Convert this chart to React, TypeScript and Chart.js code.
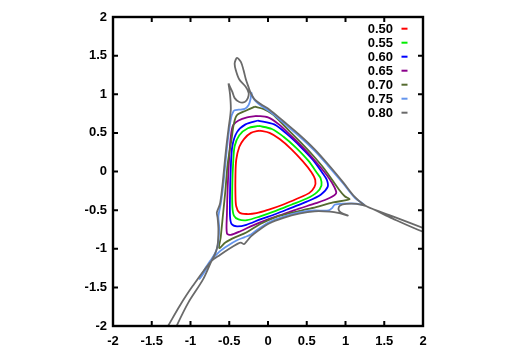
import React, { useEffect, useRef } from "react";
import { Chart, registerables } from "chart.js";
Chart.register(...registerables);

const levels = ["0.50", "0.55", "0.60", "0.65", "0.70", "0.75", "0.80"];
const colors = ["#ff0000", "#00ee00", "#0000ff", "#8b008b", "#556b2f", "#6495ed", "#6a6a6a"];
const tickValues = [-2, -1.5, -1, -0.5, 0, 0.5, 1, 1.5, 2];
const tickLabels = ["-2", "-1.5", "-1", "-0.5", "0", "0.5", "1", "1.5", "2"];

type P = [number, number];

const contour050: P[] = [
  [-0.11, 0.53], [-0.22, 0.5], [-0.31, 0.42], [-0.37, 0.32], [-0.41, 0.15], [-0.42, -0.05],
  [-0.42, -0.3], [-0.41, -0.45], [-0.37, -0.53], [-0.28, -0.55], [-0.15, -0.54], [0.02, -0.49],
  [0.19, -0.43], [0.38, -0.35], [0.53, -0.28], [0.6, -0.2], [0.61, -0.11], [0.56, -0.01],
  [0.45, 0.13], [0.3, 0.29], [0.15, 0.42], [0.02, 0.5], [-0.11, 0.53],
];
const contour055: P[] = [
  [-0.12, 0.59], [-0.26, 0.56], [-0.37, 0.47], [-0.43, 0.33], [-0.45, 0.1], [-0.46, -0.15],
  [-0.46, -0.45], [-0.44, -0.57], [-0.38, -0.62], [-0.27, -0.63], [-0.1, -0.58], [0.1, -0.51],
  [0.3, -0.43], [0.5, -0.35], [0.63, -0.27], [0.69, -0.18], [0.68, -0.09], [0.64, -0.03],
  [0.52, 0.14], [0.36, 0.31], [0.2, 0.45], [0.05, 0.55], [-0.12, 0.59],
];
const contour060: P[] = [
  [-0.13, 0.66], [-0.29, 0.61], [-0.4, 0.51], [-0.46, 0.33], [-0.48, 0.05], [-0.49, -0.3],
  [-0.49, -0.58], [-0.47, -0.68], [-0.4, -0.71], [-0.28, -0.69], [-0.1, -0.62], [0.1, -0.55],
  [0.3, -0.47], [0.5, -0.39], [0.68, -0.3], [0.77, -0.2], [0.76, -0.11], [0.71, -0.03],
  [0.58, 0.15], [0.42, 0.32], [0.25, 0.48], [0.08, 0.61], [-0.13, 0.66],
];
const contour065: P[] = [
  [-0.15, 0.72], [-0.27, 0.7], [-0.38, 0.66], [-0.45, 0.6], [-0.48, 0.45], [-0.5, 0.2],
  [-0.52, -0.2], [-0.53, -0.55], [-0.53, -0.8], [-0.48, -0.82], [-0.35, -0.77], [-0.2, -0.7],
  [0.0, -0.62], [0.2, -0.55], [0.4, -0.48], [0.62, -0.41], [0.8, -0.34], [0.88, -0.28],
  [0.86, -0.21], [0.79, -0.09], [0.64, 0.1], [0.48, 0.28], [0.31, 0.45], [0.14, 0.61],
  [0.0, 0.7], [-0.15, 0.72],
];
const contour070: P[] = [
  [-0.17, 0.84], [-0.28, 0.79], [-0.4, 0.73], [-0.44, 0.62], [-0.47, 0.42], [-0.52, 0.1],
  [-0.55, -0.25], [-0.58, -0.55], [-0.61, -0.85], [-0.63, -0.99], [-0.55, -0.92], [-0.42, -0.85],
  [-0.28, -0.79], [-0.1, -0.68], [0.1, -0.59], [0.28, -0.54], [0.45, -0.5], [0.62, -0.46],
  [0.84, -0.4], [1.05, -0.36], [0.99, -0.32], [0.92, -0.24], [0.73, 0.03], [0.57, 0.22],
  [0.4, 0.4], [0.22, 0.58], [0.06, 0.74], [-0.06, 0.81], [-0.17, 0.84],
];
const contour075: P[] = [
  [-0.44, 0.79], [-0.38, 0.8], [-0.3, 0.81], [-0.25, 0.86], [-0.225, 0.94], [-0.215, 1.02],
  [-0.2, 0.97], [-0.16, 0.91], [-0.09, 0.85], [0.02, 0.78], [0.2, 0.63], [0.4, 0.46],
  [0.6, 0.27], [0.77, 0.08], [0.97, -0.155], [1.12, -0.34], [1.24, -0.43], [1.14, -0.415],
  [0.97, -0.415], [0.86, -0.43], [0.83, -0.47], [0.78, -0.505], [0.6, -0.505], [0.4, -0.53],
  [0.2, -0.585], [0.02, -0.655], [-0.12, -0.74], [-0.22, -0.815], [-0.3, -0.85], [-0.4, -0.89],
  [-0.52, -0.96], [-0.63, -1.04], [-0.73, -1.15], [-0.8, -1.27], [-0.88, -1.39], [-0.82, -1.27],
  [-0.74, -1.15], [-0.67, -1.03], [-0.64, -0.9], [-0.63, -0.72], [-0.64, -0.58], [-0.61, -0.42],
  [-0.58, -0.2], [-0.56, 0.0], [-0.53, 0.3], [-0.5, 0.55], [-0.47, 0.72], [-0.44, 0.79],
];
const contour080: P[] = [
  [-0.51, 1.14], [-0.46, 1.03], [-0.43, 0.95], [-0.37, 0.9], [-0.3, 0.9], [-0.26, 0.95],
  [-0.25, 1.02], [-0.29, 1.1], [-0.37, 1.19], [-0.415, 1.31], [-0.43, 1.4], [-0.4, 1.47],
  [-0.35, 1.42], [-0.315, 1.31], [-0.285, 1.19], [-0.25, 1.09], [-0.22, 1.01], [-0.17, 0.93],
  [-0.09, 0.87], [0.02, 0.8], [0.2, 0.65], [0.4, 0.48], [0.6, 0.29], [0.77, 0.1], [0.97, -0.14],
  [1.12, -0.33], [1.27, -0.45], [1.61, -0.58], [2.0, -0.73], [2.1, -0.765], [2.1, -0.8],
  [2.0, -0.78], [1.61, -0.61], [1.27, -0.45], [1.14, -0.42], [1.01, -0.42], [0.93, -0.44],
  [0.91, -0.49], [0.94, -0.53], [1.03, -0.57], [0.92, -0.54], [0.8, -0.52], [0.6, -0.515],
  [0.4, -0.545], [0.2, -0.6], [0.02, -0.67], [-0.12, -0.76], [-0.22, -0.84], [-0.28, -0.91],
  [-0.31, -0.94], [-0.35, -0.92], [-0.4, -0.94], [-0.5, -1.0], [-0.62, -1.08], [-0.73, -1.16],
  [-0.97, -1.48], [-1.14, -1.74], [-1.29, -2.0], [-1.35, -2.1], [-1.22, -2.1], [-1.18, -2.0],
  [-1.03, -1.7], [-0.84, -1.4], [-0.73, -1.16], [-0.68, -1.06], [-0.65, -0.95], [-0.64, -0.75],
  [-0.65, -0.6], [-0.66, -0.53], [-0.62, -0.42], [-0.59, -0.2], [-0.57, 0.0], [-0.54, 0.3],
  [-0.51, 0.55], [-0.48, 0.8], [-0.49, 1.0], [-0.51, 1.14],
];

const contours = [contour050, contour055, contour060, contour065, contour070, contour075, contour080];

const FONT = "bold 13px 'Liberation Sans', Arial, Helvetica, sans-serif";

const framePlugin = {
  id: "frameAndLegend",
  afterDatasetsDraw(chart: any) {
    const { ctx, chartArea: a, scales } = chart;
    ctx.save();
    ctx.strokeStyle = "#000";
    ctx.lineWidth = 2;
    ctx.lineCap = "butt";
    const tl = 5;
    ctx.beginPath();
    tickValues.forEach((v) => {
      const x = scales.x.getPixelForValue(v);
      const y = scales.y.getPixelForValue(v);
      ctx.moveTo(x, a.bottom); ctx.lineTo(x, a.bottom - tl);
      ctx.moveTo(x, a.top); ctx.lineTo(x, a.top + tl);
      ctx.moveTo(a.left, y); ctx.lineTo(a.left + tl, y);
      ctx.moveTo(a.right, y); ctx.lineTo(a.right - tl, y);
    });
    ctx.stroke();
    ctx.lineWidth = 2.4;
    ctx.strokeRect(a.left, a.top, a.right - a.left, a.bottom - a.top);
    ctx.font = FONT;
    ctx.textAlign = "right";
    ctx.textBaseline = "middle";
    levels.forEach((lab, i) => {
      const y = 28.7 + i * 14;
      ctx.fillStyle = "#000";
      ctx.fillText(lab, 393, y + 0.5);
      ctx.strokeStyle = colors[i];
      ctx.lineWidth = 2;
      ctx.beginPath();
      ctx.moveTo(401.5, y);
      ctx.lineTo(407.5, y);
      ctx.stroke();
    });
    ctx.restore();
  },
};

export default function App() {
  const ref = useRef<HTMLCanvasElement>(null);
  useEffect(() => {
    if (!ref.current) return;
    const chart = new Chart(ref.current, {
      type: "scatter",
      data: {
        datasets: contours.map((c, i) => ({
          label: levels[i],
          data: c.map(([x, y]) => ({ x, y })),
          showLine: true,
          borderColor: colors[i],
          backgroundColor: colors[i],
          borderWidth: 1.8,
          pointRadius: 0,
          tension: 0.3,
          fill: false,
          order: contours.length - i,
        })),
      },
      options: {
        animation: false,
        responsive: false,
        events: [],
        layout: { padding: { top: 17, right: 85, left: 0, bottom: 0 } },
        plugins: { legend: { display: false }, tooltip: { enabled: false } },
        scales: {
          x: {
            type: "linear",
            min: -2,
            max: 2,
            grid: { display: false, drawTicks: false },
            border: { display: false },
            afterBuildTicks: (s: any) => { s.ticks = tickValues.map((v) => ({ value: v })); },
            afterFit: (s: any) => { s.height = 30; },
            ticks: {
              padding: 8,
              color: "#000",
              maxRotation: 0,
              autoSkip: false,
              font: { family: "'Liberation Sans', Arial, sans-serif", size: 13, weight: "bold" },
              callback: (v: any) => tickLabels[tickValues.indexOf(Number(v))] ?? "",
            },
          },
          y: {
            type: "linear",
            min: -2,
            max: 2,
            grid: { display: false, drawTicks: false },
            border: { display: false },
            afterBuildTicks: (s: any) => { s.ticks = tickValues.map((v) => ({ value: v })); },
            afterFit: (s: any) => { s.width = 113; },
            ticks: {
              padding: 6,
              color: "#000",
              autoSkip: false,
              font: { family: "'Liberation Sans', Arial, sans-serif", size: 13, weight: "bold" },
              callback: (v: any) => tickLabels[tickValues.indexOf(Number(v))] ?? "",
            },
          },
        },
      },
      plugins: [framePlugin],
    });
    return () => chart.destroy();
  }, []);
  return (
    <div style={{ position: "fixed", left: 0, top: 0, width: 508, height: 356, background: "#fff" }}>
      <canvas ref={ref} width={508} height={356} style={{ width: 508, height: 356, display: "block" }} />
    </div>
  );
}
